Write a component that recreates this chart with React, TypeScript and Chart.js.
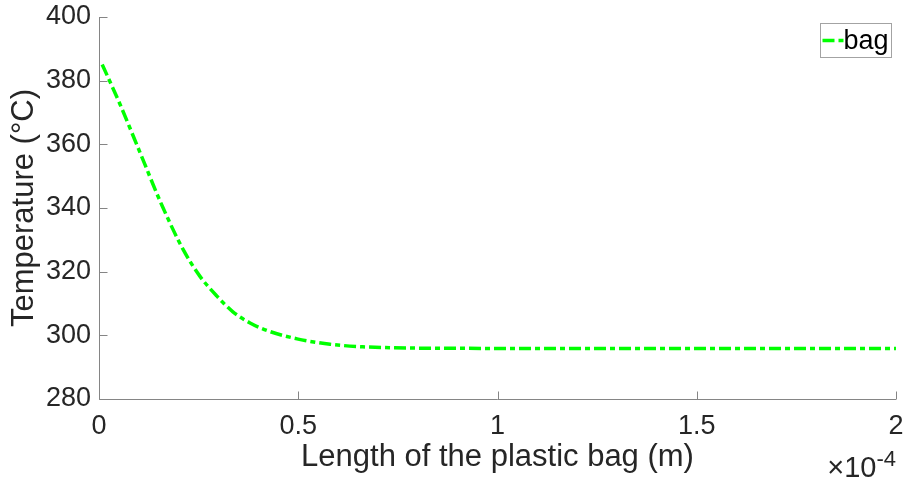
import React, { useEffect, useRef } from "react";
import { Chart, registerables } from "chart.js";

Chart.register(...registerables);

// Length along the plastic bag, in units of 1e-4 m
const lengthE4 = [0.008, 0.053, 0.105, 0.157, 0.211, 0.253, 0.296, 0.336, 0.379, 0.422, 0.497, 0.58, 0.662, 0.788, 1.0, 1.5, 2.0];
// Temperature (°C)
const temperature = [385.1, 372.5, 356.8, 341.1, 327.0, 318.6, 312.3, 307.4, 303.9, 301.5, 298.9, 297.2, 296.4, 296.0, 295.9, 295.9, 295.9];

const xTicks = [0, 0.5, 1, 1.5, 2];
const yTicks = [280, 300, 320, 340, 360, 380, 400];
const seriesLabel = "bag";
const xTitle = "Length of the plastic bag (m)";
const yTitle = "Temperature (°C)";
const exponentBase = "×10";
const exponentPower = "-4";

const FONT = "'Liberation Sans', Arial, Helvetica, sans-serif";
const TEXT = "#262626";
const AXIS = "#858585";
const GREEN = "#00ff00";
const DASH = [12, 4, 5, 4];

const matlabAxes = {
  id: "matlabAxes",
  beforeDatasetsDraw(chart: any) {
    const { ctx, chartArea } = chart;
    const xs = chart.scales.x;
    const ys = chart.scales.y;
    ctx.save();
    ctx.strokeStyle = AXIS;
    ctx.lineWidth = 1;
    ctx.beginPath();
    const L = Math.round(chartArea.left) + 0.5;
    const B = Math.round(chartArea.bottom) + 0.5;
    ctx.moveTo(L, Math.round(chartArea.top));
    ctx.lineTo(L, B);
    ctx.lineTo(Math.round(chartArea.right), B);
    for (const v of yTicks) {
      const y = Math.round(ys.getPixelForValue(v)) + 0.5;
      ctx.moveTo(L, y);
      ctx.lineTo(L + 8, y);
    }
    for (const v of xTicks) {
      const x = Math.round(xs.getPixelForValue(v)) + 0.5;
      ctx.moveTo(x, B);
      ctx.lineTo(x, B - 8);
    }
    ctx.stroke();
    ctx.restore();
  },
  afterDraw(chart: any) {
    const { ctx, chartArea } = chart;
    ctx.save();
    // exponent label
    ctx.fillStyle = TEXT;
    ctx.textBaseline = "alphabetic";
    ctx.textAlign = "left";
    ctx.font = `29px ${FONT}`;
    const baseW = ctx.measureText(exponentBase).width;
    ctx.font = `22px ${FONT}`;
    const powW = ctx.measureText(exponentPower).width;
    const xEnd = chartArea.right;
    const x0 = xEnd - powW - baseW;
    ctx.font = `29px ${FONT}`;
    ctx.fillText(exponentBase, x0, chartArea.bottom + 78);
    ctx.font = `22px ${FONT}`;
    ctx.fillText(exponentPower, x0 + baseW, chartArea.bottom + 67);

    // legend
    const ds = chart.data.datasets[0];
    ctx.font = `27px ${FONT}`;
    const tw = ctx.measureText(ds.label).width;
    const bw = 71;
    const bh = 34;
    const bx = Math.round(chartArea.right - 5 - bw) + 0.5;
    const by = Math.round(chartArea.top + 6) + 0.5;
    ctx.fillStyle = "#ffffff";
    ctx.fillRect(bx, by, bw, bh);
    ctx.strokeStyle = "#a3a3a3";
    ctx.lineWidth = 1;
    ctx.strokeRect(bx, by, bw, bh);
    ctx.strokeStyle = GREEN;
    ctx.lineWidth = 3.5;
    ctx.setLineDash(DASH);
    ctx.beginPath();
    ctx.moveTo(bx + 2, by + bh / 2);
    ctx.lineTo(bx + 24, by + bh / 2);
    ctx.stroke();
    ctx.setLineDash([]);
    ctx.fillStyle = "#000000";
    ctx.textBaseline = "middle";
    ctx.fillText(ds.label, bx + bw - 3 - tw, by + bh / 2 + 1);
    ctx.restore();
  },
};

export default function App() {
  const ref = useRef<HTMLCanvasElement | null>(null);
  useEffect(() => {
    if (!ref.current) return;
    const chart = new Chart(ref.current, {
      type: "line",
      data: {
        datasets: [
          {
            label: seriesLabel,
            data: lengthE4.map((x, i) => ({ x, y: temperature[i] })),
            borderColor: GREEN,
            borderWidth: 3.5,
            borderDash: DASH,
            pointRadius: 0,
            fill: false,
            cubicInterpolationMode: "monotone",
          },
        ],
      },
      options: {
        animation: false,
        responsive: false,
        maintainAspectRatio: false,
        layout: { padding: { top: 17, right: 10, left: 0, bottom: 0 } },
        plugins: { legend: { display: false }, tooltip: { enabled: false } },
        scales: {
          x: {
            type: "linear",
            min: 0,
            max: 2,
            afterBuildTicks: (s: any) => {
              s.ticks = xTicks.map((v) => ({ value: v }));
            },
            afterFit: (s: any) => {
              s.height = 85;
              s.paddingLeft = 0;
              s.paddingRight = 0;
            },
            grid: { display: false, drawTicks: false },
            border: { display: false },
            ticks: {
              color: TEXT,
              font: { family: FONT, size: 27 },
              padding: 11,
              maxRotation: 0,
              callback: (v: any) => String(v),
            },
            title: {
              display: true,
              text: xTitle,
              color: TEXT,
              font: { family: FONT, size: 31 },
              padding: { top: 0, bottom: 8 },
            },
          },
          y: {
            type: "linear",
            min: 280,
            max: 400,
            afterBuildTicks: (s: any) => {
              s.ticks = yTicks.map((v) => ({ value: v }));
            },
            afterFit: (s: any) => {
              s.width = 99;
              s.paddingTop = 0;
              s.paddingBottom = 0;
            },
            grid: { display: false, drawTicks: false },
            border: { display: false },
            ticks: {
              color: TEXT,
              font: { family: FONT, size: 27 },
              padding: 8,
              callback: (v: any) => String(v),
            },
            title: {
              display: true,
              text: yTitle,
              color: TEXT,
              font: { family: FONT, size: 31 },
              padding: { top: 6, bottom: 0 },
            },
          },
        },
      },
      plugins: [matlabAxes],
    });
    return () => chart.destroy();
  }, []);
  return (
    <div style={{ position: "fixed", left: 0, top: 0, width: 906, height: 484, background: "#fff" }}>
      <canvas ref={ref} width={906} height={484} style={{ display: "block" }} />
    </div>
  );
}
